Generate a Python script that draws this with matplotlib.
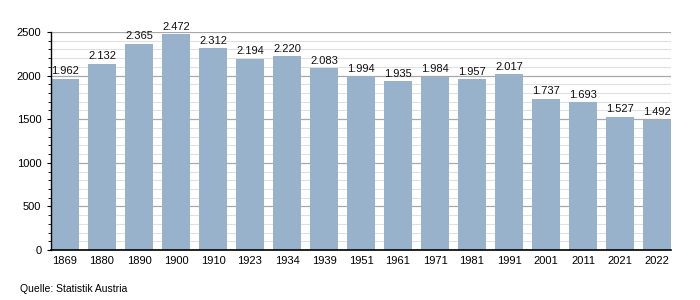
import matplotlib
matplotlib.use("Agg")
import matplotlib.pyplot as plt
from matplotlib.ticker import MultipleLocator

# -----------------------------
# Data
# -----------------------------
years = ["1869", "1880", "1890", "1900", "1910", "1923", "1934", "1939", "1951",
         "1961", "1971", "1981", "1991", "2001", "2011", "2021", "2022"]
population = [1962, 2132, 2365, 2472, 2312, 2194, 2220, 2083, 1994,
              1935, 1984, 1957, 2017, 1737, 1693, 1527, 1492]
source = "Quelle: Statistik Austria"

plt.rcParams["font.family"] = ["Liberation Sans", "DejaVu Sans"]

fig = plt.figure(figsize=(7, 3), dpi=100)
ax = fig.add_axes([51 / 700, 50 / 300, 620 / 700, 218 / 300])
ax.set_axisbelow(True)

width = 0.757
x = list(range(len(years)))
ax.bar(x, population, width=width, color="#98b2cb", zorder=3)

for xi, v in zip(x, population):
    label = f"{v:,}".replace(",", ".")
    ax.text(xi, v + 30, label, ha="center", va="bottom", fontsize=8, color="#111111", zorder=4)

ax.set_xlim(-width / 2, len(years) - 1 + width / 2)
ax.set_ylim(0, 2500)
ax.set_xticks(x)
ax.set_xticklabels(years, fontsize=8)
ax.yaxis.set_major_locator(MultipleLocator(500))
ax.yaxis.set_minor_locator(MultipleLocator(100))
ax.tick_params(axis="y", which="major", length=3, width=0.8, labelsize=8, pad=4)
ax.tick_params(axis="y", which="minor", length=2, width=0.6)
ax.tick_params(axis="x", length=0, pad=4)

ax.grid(axis="y", which="major", color="#a8a8a8", linewidth=0.9)
ax.grid(axis="y", which="minor", color="#e0e0e0", linewidth=0.8)

for s in ["top", "right"]:
    ax.spines[s].set_visible(False)
ax.spines["left"].set_linewidth(1.0)
ax.spines["bottom"].set_linewidth(1.2)
ax.spines["left"].set_zorder(5)
ax.spines["bottom"].set_zorder(5)

fig.text(20 / 700, 1 - 289 / 300, source, fontsize=7.5, ha="left", va="center")

fig.savefig("out.png", dpi=100)
